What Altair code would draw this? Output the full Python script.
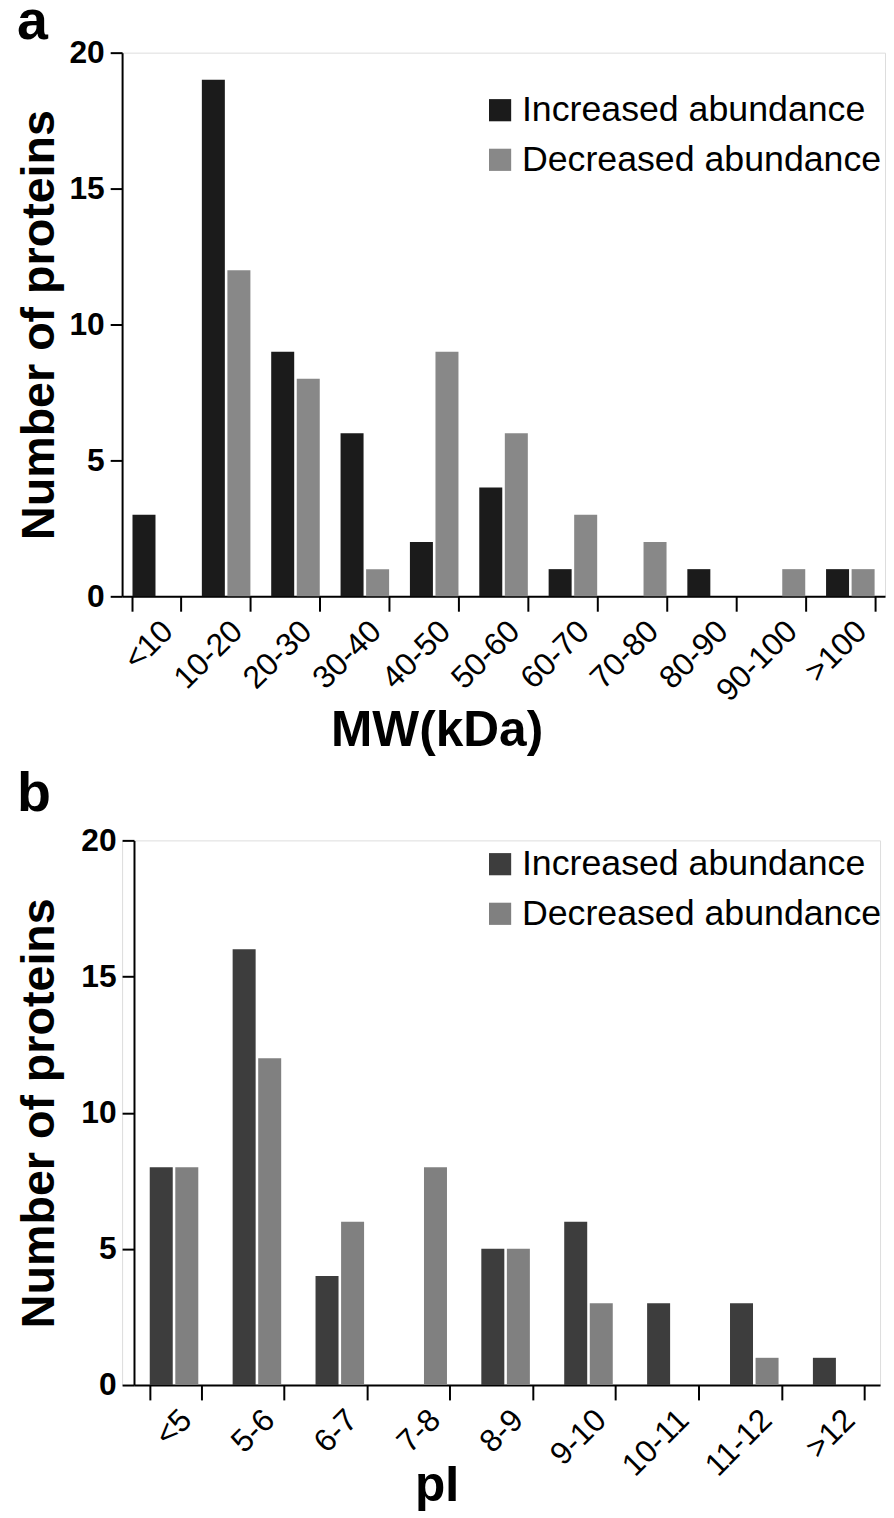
import altair as alt
import pandas as pd

mw_categories = ["<10", "10-20", "20-30", "30-40", "40-50", "50-60", "60-70", "70-80", "80-90", "90-100", ">100"]
mw_increased = [3, 19, 9, 6, 2, 4, 1, 0, 1, 0, 1]
mw_decreased = [0, 12, 8, 1, 9, 6, 3, 2, 0, 1, 1]

pi_categories = ["<5", "5-6", "6-7", "7-8", "8-9", "9-10", "10-11", "11-12", ">12"]
pi_increased = [8, 16, 4, 0, 5, 6, 3, 3, 1]
pi_decreased = [8, 12, 6, 8, 5, 3, 0, 1, 0]

series = ["Increased abundance", "Decreased abundance"]
FONT = "Liberation Sans"


def long_df(cats, inc, dec):
    rows = []
    for c, a, b in zip(cats, inc, dec):
        rows.append({"cat": c, "series": series[0], "value": a})
        rows.append({"cat": c, "series": series[1], "value": b})
    return pd.DataFrame(rows)


def panel(cats, inc, dec, letter, letter_y, xtitle, title_y, colors, w, h,
          pad_inner, off_pad, legend_y, left_shift):
    df = long_df(cats, inc, dec)
    xscale = alt.Scale(paddingInner=pad_inner, paddingOuter=pad_inner / 2)
    if left_shift:
        xscale = alt.Scale(paddingInner=pad_inner, paddingOuter=pad_inner / 2,
                           range=[left_shift, w])
    bars = alt.Chart(df).mark_bar().encode(
        x=alt.X("cat:N", sort=cats, scale=xscale,
                axis=alt.Axis(title=xtitle, labelAngle=-45, labelFontSize=32, labelFont=FONT,
                              labelColor="black", tickBand="extent", tickSize=15, tickWidth=2,
                              tickColor="black", domainColor="black", domainWidth=2,
                              titleFont=FONT, titleFontSize=50, titleFontWeight="bold",
                              titleColor="black", titleX=317, titleY=title_y,
                              titleAlign="center", titleBaseline="alphabetic",
                              labelPadding=4)),
        xOffset=alt.XOffset("series:N", sort=series,
                            scale=alt.Scale(paddingInner=off_pad, paddingOuter=0)),
        y=alt.Y("value:Q", scale=alt.Scale(domain=[0, 20]),
                axis=alt.Axis(title="Number of proteins", values=[0, 5, 10, 15, 20], grid=False,
                              labelFontSize=32, labelFont=FONT, labelFontWeight="bold",
                              labelColor="black", tickSize=12, tickWidth=2, tickColor="black",
                              domainColor="black", domainWidth=2, titleFont=FONT,
                              titleFontSize=47, titleFontWeight="bold", titleColor="black",
                              titlePadding=6 + left_shift, labelPadding=6,
                              offset=-left_shift)),
        color=alt.Color("series:N", sort=series,
                        scale=alt.Scale(domain=series, range=colors),
                        legend=alt.Legend(title=None, orient="none", legendX=363,
                                          legendY=legend_y, symbolType="square", symbolSize=500,
                                          symbolStrokeWidth=0, labelFont=FONT, labelFontSize=36,
                                          labelColor="black", labelLimit=0, rowPadding=14,
                                          labelOffset=4, symbolOpacity=1, padding=0)),
    )
    lab = alt.Chart(pd.DataFrame({"t": [letter]})).mark_text(
        font=FONT, fontSize=56, fontWeight="bold", align="left", baseline="alphabetic", color="black"
    ).encode(text="t:N", x=alt.value(-106), y=alt.value(letter_y))
    return alt.layer(bars, lab).properties(width=w, height=h)


a = panel(mw_categories, mw_increased, mw_decreased, "a", -14, "MW(kDa)", 150,
          ["#1b1b1b", "#888888"], 769, 548, 0.3, 0.1, 40, 0)
b = panel(pi_categories, pi_increased, pi_decreased, "b", -30, "pI", 116,
          ["#3d3d3d", "#808080"], 764, 549, 0.38, 0.3, 6, 12)

chart = alt.vconcat(a, b, spacing=9).resolve_scale(color="independent", x="independent").configure_view(
    stroke=None).configure(padding={"left": 6, "top": -21, "right": 0, "bottom": 0}, background="white")

chart.save("out.html", embed_options={"renderer": "svg", "actions": False})
